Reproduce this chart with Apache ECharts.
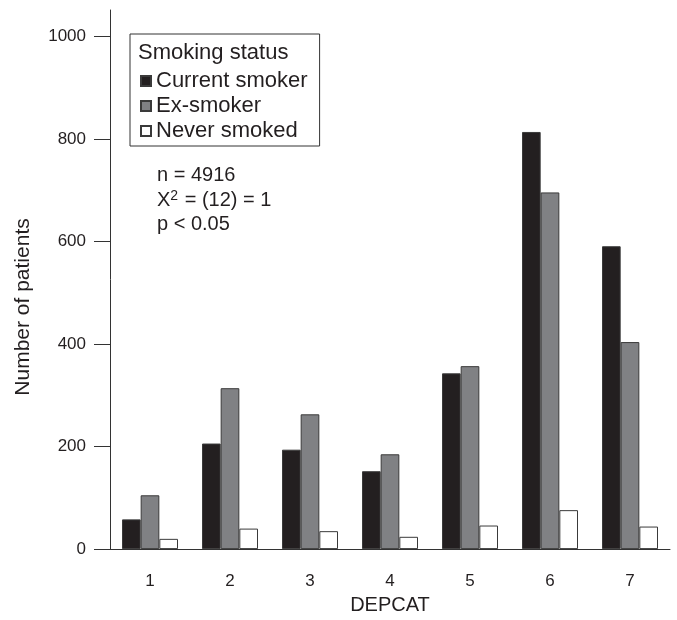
<!DOCTYPE html>
<html>
<head>
<meta charset="utf-8">
<script src="https://cdn.jsdelivr.net/npm/echarts@6/dist/echarts.min.js"></script>
<style>
  html, body { margin: 0; padding: 0; background: #fff; }
  #chart { width: 677px; height: 620px; }
</style>
</head>
<body>
<div id="chart"></div>
<script>
// DEPCAT categories and patient counts per smoking status
const categories = ['1', '2', '3', '4', '5', '6', '7'];
const currentSmoker = [58, 206, 194, 152, 343, 814, 591];
const exSmoker = [105, 314, 263, 185, 357, 696, 404];
const neverSmoked = [20, 40, 35, 24, 46, 76, 44];
const yTicks = [0, 200, 400, 600, 800, 1000];

const font = 'Liberation Sans, Arial, Helvetica, sans-serif';
const ink = '#231f20';

var chart = echarts.init(document.getElementById('chart'), null, { renderer: 'canvas' });

function barSeries(name, data, color) {
    return {
        name: name,
        type: 'bar',
        data: data,
        barGap: '0%',
        barCategoryGap: '30%',
        itemStyle: { color: color, borderColor: '#3a3a3a', borderWidth: 1 }
    };
}

var option = {
    animation: false,
    backgroundColor: '#fff',
    textStyle: { fontFamily: font, color: ink },
    grid: { left: 110, right: 7, top: 10, bottom: 65 },
    legend: {
        orient: 'vertical',
        left: 130,
        top: 34,
        padding: [36, 12, 4, 10],
        borderColor: '#333',
        borderWidth: 1,
        itemWidth: 10,
        itemHeight: 10,
        itemGap: 3,
        icon: 'rect',
        selectedMode: false,
        textStyle: { fontFamily: font, fontSize: 22, lineHeight: 20, color: ink }
    },
    xAxis: {
        type: 'category',
        data: categories,
        axisLine: { lineStyle: { color: '#333', width: 1 } },
        axisTick: { length: 15, lineStyle: { color: '#333' } },
        axisLabel: { fontSize: 17, color: ink, margin: 24, fontFamily: font },
        name: 'DEPCAT',
        nameLocation: 'middle',
        nameGap: 45,
        nameTextStyle: { fontSize: 20, color: ink, fontFamily: font }
    },
    yAxis: {
        type: 'value',
        min: 0,
        max: 1052,
        axisLine: { show: true, lineStyle: { color: '#333', width: 1 } },
        axisTick: { show: true, length: 16, customValues: yTicks, lineStyle: { color: '#333' } },
        axisLabel: {
            fontSize: 17, color: ink, margin: 24, customValues: yTicks, fontFamily: font,
            formatter: function (v) { return String(v); }
        },
        splitLine: { show: false }
    },
    graphic: [
        {
            type: 'text', x: 23, y: 307, rotation: Math.PI / 2,
            style: { text: 'Number of patients', font: '21px ' + font, fill: ink, align: 'center', verticalAlign: 'middle' }
        },
        {
            type: 'text', x: 138, y: 53,
            style: { text: 'Smoking status', font: '22px ' + font, fill: ink, verticalAlign: 'middle' }
        },
        {
            type: 'text', x: 157, y: 175,
            style: { text: 'n = 4916', font: '20px ' + font, fill: ink, verticalAlign: 'middle' }
        },
        {
            type: 'text', x: 157, y: 200,
            style: {
                text: 'X{sup|2} = (12) = 1',
                font: '20px ' + font, fill: ink, verticalAlign: 'middle',
                rich: { sup: { fontSize: 14, verticalAlign: 'top', padding: [0, 1, 8, 0], fontFamily: font, fill: ink } }
            }
        },
        {
            type: 'text', x: 157, y: 224,
            style: { text: 'p < 0.05', font: '20px ' + font, fill: ink, verticalAlign: 'middle' }
        }
    ],
    series: [
        barSeries('Current smoker', currentSmoker, ink),
        barSeries('Ex-smoker', exSmoker, '#808184'),
        barSeries('Never smoked', neverSmoked, '#ffffff')
    ]
};

chart.setOption(option);
</script>
</body>
</html>
